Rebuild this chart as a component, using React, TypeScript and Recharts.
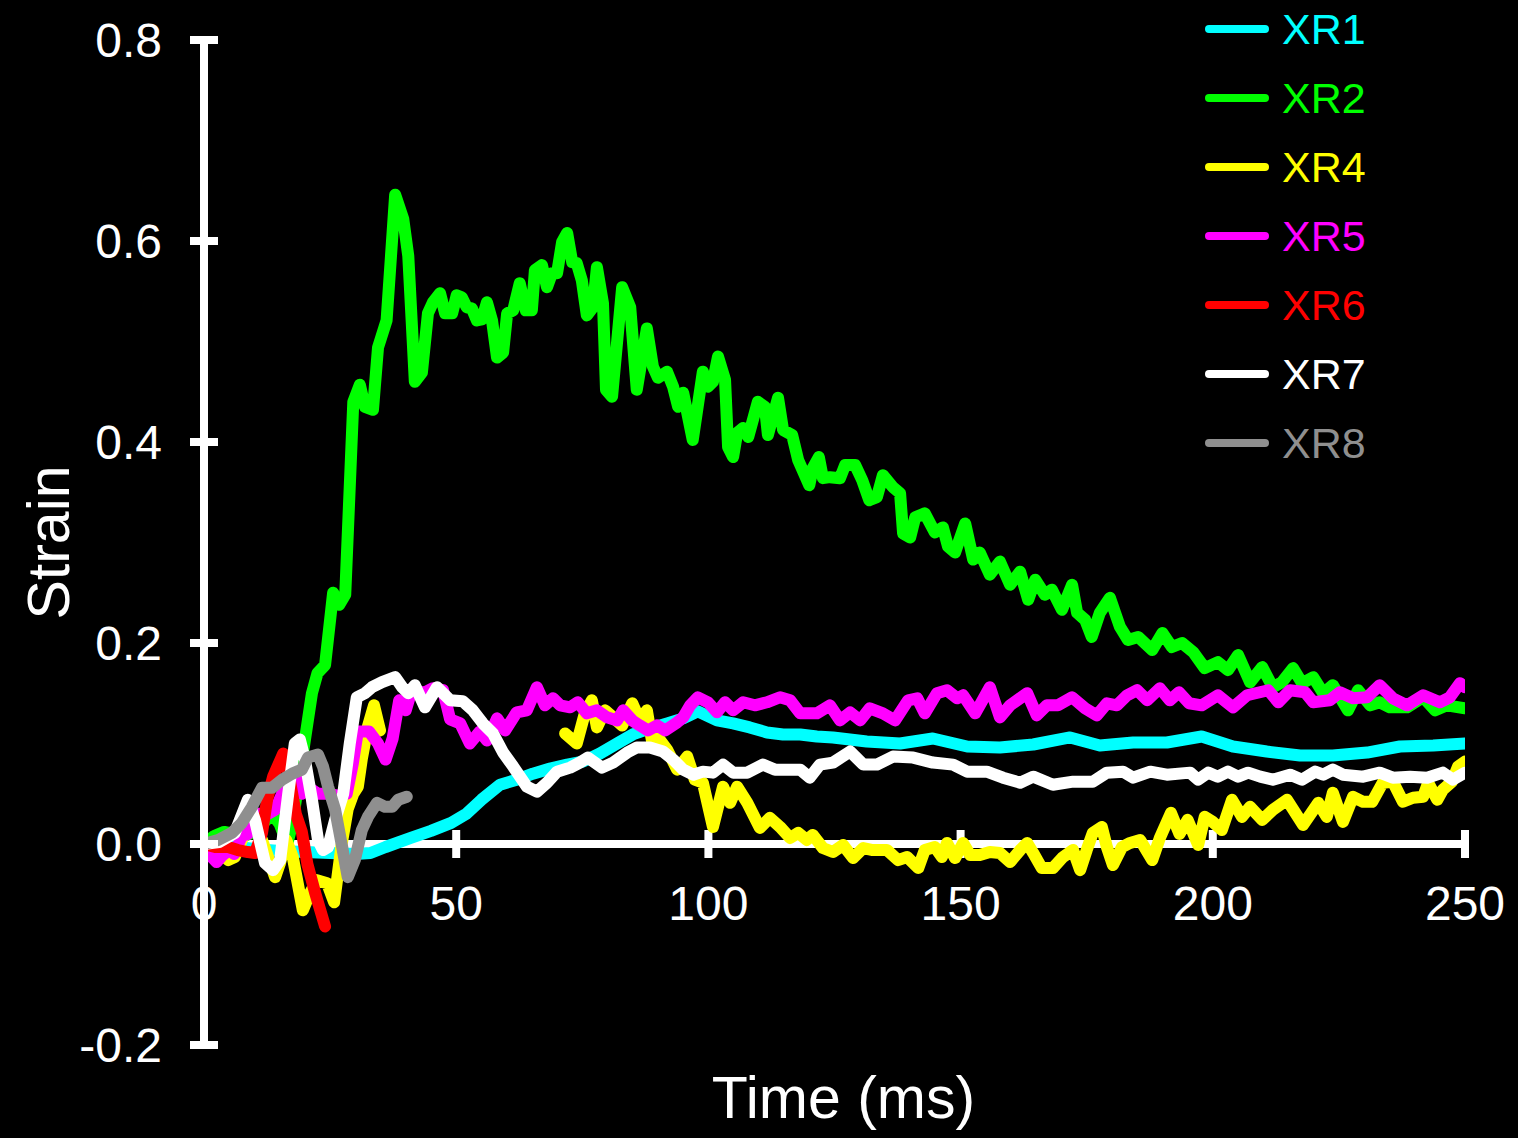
import { LineChart, Line, XAxis, YAxis, Legend, ReferenceLine, ReferenceDot } from 'recharts'

const xr1Time = [0, 5, 10, 15, 20, 25, 30, 33, 36, 41, 45, 49, 52, 55, 58.7, 62, 65.2, 68.6, 72, 75.1, 78.5, 81.9, 85, 88.4, 91.8, 95, 97.9, 101.7, 104.9, 108.2, 111.6, 114.8, 118.2, 121.5, 124.7, 131.4, 138, 144.5, 151.3, 157.8, 164.4, 171.7, 177.6, 184.2, 190.9, 197.8, 204, 210.7, 217.3, 223.8, 230.6, 237.1, 243.7, 250]
const xr1Strain = [0, -0.002, -0.005, -0.007, -0.008, -0.009, -0.01, -0.009, -0.003, 0.006, 0.013, 0.021, 0.03, 0.044, 0.059, 0.064, 0.07, 0.075, 0.079, 0.082, 0.09, 0.1, 0.109, 0.115, 0.12, 0.125, 0.132, 0.123, 0.12, 0.116, 0.111, 0.109, 0.109, 0.107, 0.106, 0.102, 0.1, 0.105, 0.097, 0.096, 0.099, 0.106, 0.098, 0.101, 0.101, 0.107, 0.097, 0.092, 0.088, 0.088, 0.091, 0.097, 0.098, 0.1]

const xr2Time = [0, 2, 4, 6, 8, 10, 12, 13.5, 15, 16.5, 17.5, 19, 20.5, 21.4, 22.5, 24, 25.6, 26.8, 28, 29.6, 30.9, 31.9, 33.5, 34.5, 36.2, 37.9, 39.5, 40.5, 41.8, 43.2, 44.4, 45.4, 46.8, 47.8, 49.2, 50.1, 51.1, 52.1, 53.1, 54.1, 55.1, 56.1, 57.1, 58.1, 59.3, 60.1, 61.3, 62.6, 63.8, 65, 65.6, 67, 68, 69, 70, 71, 72, 73, 73.9, 74.9, 75.9, 77.1, 77.9, 79.1, 79.7, 80.9, 82.9, 84.5, 85.8, 87.8, 89, 90, 91.8, 93, 94, 95, 96.9, 98.9, 99.9, 100.9, 101.9, 103.3, 103.9, 104.9, 105.7, 106.9, 107.9, 109.8, 111.2, 111.8, 113.8, 114.8, 116.6, 117.8, 120, 120.7, 121.9, 122.7, 124.1, 126.1, 127.1, 129.1, 130.5, 131.9, 133.4, 134.6, 136.6, 138, 138.6, 140, 141, 142.9, 144.9, 146.5, 147.5, 148.9, 150.9, 152.5, 153.8, 155.8, 157.8, 159.8, 161.8, 163.4, 164.8, 166.7, 168.1, 170.1, 172.1, 173.1, 174.7, 176, 177.6, 179.6, 181.6, 183.2, 185.2, 188, 190, 191.9, 193.9, 196.1, 198.4, 201, 203, 205, 207.4, 209.8, 211.9, 213.7, 215.9, 217.7, 219.9, 221.9, 223.8, 226.8, 228.8, 231.2, 233.1, 235.1, 238.5, 241.7, 244.1, 246.4, 250]
const xr2Strain = [0, 0.008, 0.012, 0.01, 0.008, 0.012, 0.022, 0.03, 0.02, 0.0, 0.02, 0.07, 0.12, 0.15, 0.17, 0.178, 0.25, 0.238, 0.248, 0.44, 0.457, 0.435, 0.432, 0.494, 0.521, 0.646, 0.622, 0.585, 0.46, 0.469, 0.528, 0.539, 0.548, 0.528, 0.528, 0.546, 0.544, 0.534, 0.533, 0.521, 0.522, 0.539, 0.521, 0.484, 0.489, 0.528, 0.531, 0.558, 0.531, 0.531, 0.571, 0.576, 0.554, 0.568, 0.568, 0.599, 0.608, 0.579, 0.578, 0.561, 0.526, 0.534, 0.574, 0.538, 0.452, 0.445, 0.554, 0.534, 0.452, 0.513, 0.475, 0.464, 0.47, 0.455, 0.435, 0.449, 0.402, 0.47, 0.455, 0.46, 0.485, 0.462, 0.395, 0.385, 0.409, 0.414, 0.405, 0.44, 0.435, 0.407, 0.444, 0.412, 0.407, 0.382, 0.357, 0.374, 0.385, 0.364, 0.365, 0.364, 0.377, 0.377, 0.362, 0.342, 0.345, 0.367, 0.355, 0.349, 0.309, 0.305, 0.325, 0.329, 0.31, 0.315, 0.296, 0.29, 0.319, 0.283, 0.29, 0.268, 0.281, 0.258, 0.271, 0.243, 0.263, 0.248, 0.253, 0.233, 0.258, 0.23, 0.223, 0.206, 0.23, 0.245, 0.216, 0.203, 0.206, 0.193, 0.21, 0.196, 0.2, 0.191, 0.175, 0.181, 0.173, 0.188, 0.161, 0.176, 0.156, 0.161, 0.175, 0.16, 0.166, 0.15, 0.158, 0.133, 0.153, 0.138, 0.141, 0.136, 0.136, 0.146, 0.133, 0.138, 0.135]

// XR4 has a gap between ~35 and ~72 ms (null breaks the line)
const xr4Time = [0, 1.5, 3, 4.8, 6.1, 8.1, 9.5, 10.5, 11.5, 12.7, 14.1, 15, 16.3, 17.6, 19.6, 21, 22.4, 24.4, 25.8, 27.3, 28.5, 29.6, 30.5, 31.3, 32.5, 33.7, 34.9, 50, 71.6, 73.9, 75.5, 76.9, 77.9, 79.5, 81.1, 82.9, 84.9, 86.4, 87.8, 88.8, 90, 91.8, 93.8, 95.8, 97.3, 98.9, 100.9, 102.9, 104.3, 105.7, 107.7, 110.2, 112.2, 114.2, 116.2, 117.8, 119.5, 120.7, 122.7, 124.7, 126.7, 128.7, 130.7, 132.6, 135.4, 137.6, 139.4, 141.6, 142.9, 144.9, 146.3, 147.3, 148.9, 150.5, 151.9, 153.8, 155.8, 157.8, 159.8, 161.8, 163.2, 164.4, 166.1, 168.3, 170.3, 172.3, 173.7, 175, 176.2, 178, 179, 180.2, 182, 183.6, 185.6, 188, 189.5, 191.7, 193.4, 195, 197.1, 198.4, 200, 201.8, 203.8, 205.8, 207.4, 209.8, 211.9, 214.7, 217.9, 220.9, 222.6, 223.8, 225.8, 227.8, 229.8, 231.6, 233.7, 235.7, 237.7, 239.7, 241.7, 242.7, 244.5, 245.6, 247.4, 248.6, 250]
const xr4Strain = [0, -0.005, -0.008, -0.016, -0.013, 0.011, 0.027, 0.015, 0.004, -0.013, -0.033, -0.02, 0.004, -0.013, -0.066, -0.049, -0.036, -0.039, -0.058, 0.0, 0.035, 0.05, 0.057, 0.085, 0.117, 0.138, 0.113, null, 0.11, 0.1, 0.13, 0.143, 0.116, 0.133, 0.126, 0.118, 0.14, 0.123, 0.133, 0.103, 0.106, 0.094, 0.074, 0.087, 0.064, 0.061, 0.017, 0.057, 0.041, 0.057, 0.041, 0.016, 0.026, 0.017, 0.006, 0.011, 0.004, 0.009, -0.004, -0.008, -0.001, -0.014, -0.004, -0.006, -0.006, -0.016, -0.013, -0.024, -0.006, -0.003, -0.013, 0.001, -0.014, 0.001, -0.011, -0.011, -0.008, -0.009, -0.018, -0.006, 0.001, -0.009, -0.024, -0.024, -0.013, -0.006, -0.026, -0.006, 0.011, 0.017, -0.003, -0.021, -0.003, 0.001, 0.004, -0.016, 0.006, 0.031, 0.01, 0.024, -0.001, 0.027, 0.022, 0.014, 0.044, 0.027, 0.037, 0.024, 0.034, 0.044, 0.019, 0.041, 0.027, 0.051, 0.022, 0.047, 0.042, 0.042, 0.061, 0.062, 0.042, 0.046, 0.047, 0.061, 0.044, 0.054, 0.062, 0.077, 0.082]

const xr5Time = [0, 1, 2.5, 3.5, 5, 6, 7.5, 8.7, 10.7, 12.7, 14.1, 15.5, 16.7, 18.4, 19.4, 20.5, 22.6, 24.4, 26.6, 28.3, 29.5, 30.5, 32.7, 34.5, 36, 37.4, 38.7, 40, 41.3, 43.4, 45.4, 47.4, 48.8, 50.8, 52.7, 54.7, 56.1, 58.1, 59.7, 62, 64, 66, 67.6, 69.2, 70.6, 72.6, 74.1, 75.9, 77.9, 79.9, 81.9, 83.1, 84.9, 86.4, 88, 89.8, 91.4, 93.8, 95, 96.4, 97.9, 99.9, 101.7, 103.3, 104.9, 106.9, 109.2, 111.6, 114.2, 116.2, 118.2, 121.5, 124.1, 126.1, 128.1, 130.1, 132, 134.6, 137, 139.6, 141.4, 142.9, 145.3, 147.3, 149.3, 150.5, 152.9, 155.8, 157.8, 159.8, 163.2, 165.1, 167.1, 169.3, 172.1, 174.7, 177, 179, 181, 183, 185, 187, 189.5, 191.5, 193.3, 195.3, 197.8, 201, 204, 206.8, 211, 213, 215.3, 218.3, 219.9, 223.2, 225.2, 227.8, 230.6, 233.1, 235.7, 238.5, 241.7, 245, 247, 249, 250]
const xr5Strain = [0, -0.01, -0.018, -0.012, -0.006, -0.01, 0.008, 0.01, 0.03, 0.03, 0.034, 0.05, 0.06, 0.065, 0.05, 0.057, 0.05, 0.05, 0.048, 0.05, 0.08, 0.112, 0.112, 0.1, 0.084, 0.105, 0.143, 0.133, 0.155, 0.15, 0.155, 0.153, 0.124, 0.12, 0.1, 0.112, 0.103, 0.125, 0.113, 0.131, 0.133, 0.156, 0.138, 0.145, 0.138, 0.136, 0.141, 0.13, 0.133, 0.126, 0.123, 0.133, 0.123, 0.118, 0.113, 0.118, 0.113, 0.121, 0.126, 0.138, 0.146, 0.141, 0.131, 0.141, 0.133, 0.141, 0.138, 0.141, 0.146, 0.143, 0.13, 0.13, 0.138, 0.123, 0.131, 0.123, 0.135, 0.13, 0.123, 0.143, 0.145, 0.13, 0.15, 0.153, 0.145, 0.148, 0.13, 0.156, 0.126, 0.138, 0.15, 0.128, 0.138, 0.138, 0.146, 0.135, 0.128, 0.14, 0.138, 0.148, 0.153, 0.143, 0.155, 0.143, 0.151, 0.14, 0.138, 0.148, 0.136, 0.148, 0.153, 0.141, 0.153, 0.151, 0.141, 0.143, 0.151, 0.145, 0.146, 0.158, 0.145, 0.138, 0.148, 0.141, 0.146, 0.16, 0.156]

const xr6Time = [0, 2.2, 4.8, 6.7, 8.7, 10.1, 11.5, 12.5, 13.7, 15.7, 17, 18.2, 19.4, 20.5, 22, 24]
const xr6Strain = [0, -0.003, -0.003, -0.006, -0.008, -0.009, 0.011, 0.044, 0.067, 0.09, 0.064, 0.03, 0.012, -0.02, -0.048, -0.082]

const xr7Time = [0, 3, 6.1, 8.7, 10.1, 12.1, 13.7, 15.1, 16.7, 18, 19, 20, 21.4, 22.6, 23.6, 24.6, 26, 27.6, 28.9, 30.3, 31.9, 33.3, 35.3, 37.9, 39.3, 40.5, 41.8, 43.8, 46.2, 48.8, 51.3, 53.3, 55.3, 57.3, 59.3, 61.3, 64, 66, 68, 70, 72.6, 74.5, 76.1, 78.9, 81.1, 83.9, 85.8, 88.4, 91, 93, 95, 97, 98.9, 100.9, 102.9, 104.9, 107.7, 110.8, 113.2, 118.2, 120.1, 122.1, 124.7, 128.1, 130.7, 133.4, 136.6, 140.6, 144.5, 148.5, 151.3, 155.2, 158.4, 161.8, 164.4, 168.3, 172.3, 176.2, 179, 182.2, 184.2, 187.6, 190.9, 195.5, 197.1, 199.1, 201, 203, 205, 207, 209.4, 211.9, 215.3, 217.7, 220.3, 221.9, 223.8, 225.8, 229.8, 233.1, 235.7, 239.1, 242.5, 245.6, 247.6, 250]
const xr7Strain = [0, 0.002, 0.011, 0.044, 0.024, -0.019, -0.026, -0.016, 0.05, 0.1, 0.104, 0.084, 0.044, 0.004, -0.006, -0.003, 0.024, 0.05, 0.1, 0.146, 0.15, 0.156, 0.161, 0.166, 0.156, 0.15, 0.158, 0.136, 0.156, 0.143, 0.142, 0.133, 0.12, 0.11, 0.091, 0.077, 0.057, 0.052, 0.061, 0.072, 0.076, 0.081, 0.086, 0.076, 0.081, 0.091, 0.096, 0.096, 0.092, 0.084, 0.074, 0.069, 0.072, 0.071, 0.079, 0.071, 0.071, 0.079, 0.074, 0.074, 0.066, 0.079, 0.081, 0.092, 0.079, 0.079, 0.087, 0.086, 0.081, 0.079, 0.072, 0.072, 0.066, 0.061, 0.067, 0.059, 0.062, 0.062, 0.071, 0.072, 0.066, 0.072, 0.069, 0.071, 0.064, 0.071, 0.067, 0.072, 0.067, 0.071, 0.067, 0.064, 0.069, 0.064, 0.072, 0.069, 0.074, 0.069, 0.067, 0.071, 0.066, 0.067, 0.066, 0.071, 0.064, 0.071]

const xr8Time = [0, 2.8, 5.5, 7.5, 9.5, 11.5, 13.5, 15.5, 17.5, 19.4, 20.6, 22.6, 23.6, 24.6, 26, 27.4, 28.5, 29.9, 31.3, 32.5, 34.3, 35.9, 37.3, 38.5, 40.2]
const xr8Strain = [0, 0.004, 0.011, 0.021, 0.037, 0.056, 0.056, 0.064, 0.07, 0.074, 0.086, 0.089, 0.077, 0.057, 0.034, -0.003, -0.033, -0.016, 0.014, 0.027, 0.041, 0.037, 0.037, 0.044, 0.047]

const xTicks = [0, 50, 100, 150, 200, 250]
const yTicks = [-0.2, 0, 0.2, 0.4, 0.6, 0.8]

const toPoints = (time: number[], strain: (number | null)[]) =>
  time.map((t, i) => ({ t, v: strain[i] }))

const series = [
  { name: 'XR1', color: '#00ffff', data: toPoints(xr1Time, xr1Strain) },
  { name: 'XR2', color: '#00ff00', data: toPoints(xr2Time, xr2Strain) },
  { name: 'XR4', color: '#ffff00', data: toPoints(xr4Time, xr4Strain) },
  { name: 'XR5', color: '#ff00ff', data: toPoints(xr5Time, xr5Strain) },
  { name: 'XR6', color: '#ff0000', data: toPoints(xr6Time, xr6Strain) },
  { name: 'XR7', color: '#ffffff', data: toPoints(xr7Time, xr7Strain) },
  { name: 'XR8', color: '#8f8f8f', data: toPoints(xr8Time, xr8Strain) },
]

const WHITE = '#ffffff'
const AXIS_WIDTH = 8
const LINE_WIDTH = 12
const TICK_HALF = 14
const TICK_MARGIN = 28
const TICK_FONT = 48
const TITLE_FONT = 59

function YTick(props: any) {
  const { x, y, payload } = props
  return (
    <g>
      <line x1={x + TICK_MARGIN} x2={x + TICK_MARGIN + 2 * TICK_HALF} y1={y} y2={y} stroke={WHITE} strokeWidth={AXIS_WIDTH} />
      <text x={x} y={y} dy={17} textAnchor="end" fill={WHITE} fontSize={TICK_FONT}>
        {Number(payload.value).toFixed(1)}
      </text>
    </g>
  )
}

function XTick({ cx, cy, value }: any) {
  return (
    <g>
      <line x1={cx} x2={cx} y1={cy - TICK_HALF} y2={cy + TICK_HALF} stroke={WHITE} strokeWidth={AXIS_WIDTH} />
      <text x={cx} y={cy + 76} textAnchor="middle" fill={WHITE} fontSize={TICK_FONT}>
        {value}
      </text>
    </g>
  )
}

function TimeTitle({ viewBox }: any) {
  return (
    <text x={viewBox.x + viewBox.width / 2 + 9} y={viewBox.y + viewBox.height - 20} textAnchor="middle" fill={WHITE} fontSize={TITLE_FONT}>
      Time (ms)
    </text>
  )
}

function StrainTitle({ viewBox }: any) {
  const x = viewBox.x + 69
  const y = viewBox.y + viewBox.height / 2
  return (
    <text x={x} y={y} transform={`rotate(-90 ${x} ${y})`} textAnchor="middle" fill={WHITE} fontSize={TITLE_FONT}>
      Strain
    </text>
  )
}

function LegendList({ payload }: any) {
  return (
    <div>
      {(payload || []).map((item: any) => (
        <div key={item.value} style={{ display: 'flex', alignItems: 'center', height: 69 }}>
          <svg width={64} height={10}>
            <line x1={4} x2={60} y1={5} y2={5} stroke={item.color} strokeWidth={8} strokeLinecap="round" />
          </svg>
          <span style={{ color: item.color, fontSize: 43, lineHeight: 1, marginLeft: 13 }}>{item.value}</span>
        </div>
      ))}
    </div>
  )
}

export default function App() {
  return (
    <div
      style={{
        position: 'absolute',
        left: 0,
        top: 0,
        width: 1518,
        height: 1138,
        background: '#000',
        fontFamily: '"Liberation Sans", Arial, sans-serif',
      }}
    >
      <LineChart width={1518} height={1138} margin={{ top: 40, right: 53, left: 0, bottom: 0 }}>
        <XAxis
          dataKey="t"
          type="number"
          domain={[0, 250]}
          allowDataOverflow
          height={93}
          tick={false}
          tickLine={false}
          axisLine={false}
          label={<TimeTitle />}
        />
        <YAxis
          type="number"
          domain={[-0.2, 0.8]}
          allowDataOverflow
          ticks={yTicks}
          width={204}
          tickSize={TICK_HALF}
          tickMargin={TICK_MARGIN}
          tickLine={false}
          axisLine={{ stroke: WHITE, strokeWidth: AXIS_WIDTH }}
          tick={<YTick />}
          label={<StrainTitle />}
        />
        <ReferenceLine y={0} stroke={WHITE} strokeWidth={AXIS_WIDTH} zIndex={50} />
        {xTicks.map((t) => (
          <ReferenceDot
            key={t}
            x={t}
            y={0}
            r={0}
            zIndex={50}
            ifOverflow="visible"
            shape={(p: any) => <XTick cx={p.cx} cy={p.cy} value={t} />}
          />
        ))}
        <Legend
          layout="vertical"
          align="center"
          verticalAlign="middle"
          content={<LegendList />}
          wrapperStyle={{ left: 1205, top: -5.5, width: 'auto', height: 'auto' }}
        />
        {series.map((s) => (
          <Line
            key={s.name}
            data={s.data}
            dataKey="v"
            name={s.name}
            type="linear"
            stroke={s.color}
            strokeWidth={LINE_WIDTH}
            strokeLinecap="round"
            strokeLinejoin="round"
            dot={false}
            activeDot={false}
            isAnimationActive={false}
          />
        ))}
      </LineChart>
    </div>
  )
}
